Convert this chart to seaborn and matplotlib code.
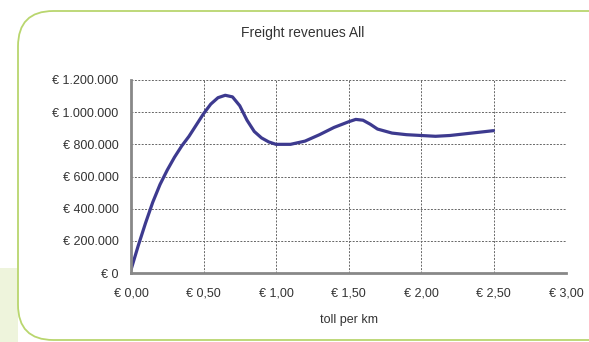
import numpy as np
import pandas as pd
import matplotlib.pyplot as plt
import seaborn as sns
from matplotlib.patches import FancyBboxPatch, Rectangle
from matplotlib.ticker import FuncFormatter

sns.set_style("white")
plt.rcParams['font.family'] = ['Liberation Sans', 'DejaVu Sans']

# values (toll in EUR per km, revenue in EUR)
toll = [0.00, 0.05, 0.10, 0.15, 0.20, 0.25, 0.30, 0.35, 0.40, 0.45,
        0.50, 0.55, 0.60, 0.65, 0.70, 0.75, 0.80, 0.85, 0.90, 0.95,
        1.00, 1.10, 1.20, 1.30, 1.40, 1.50, 1.55, 1.60, 1.65, 1.70,
        1.80, 1.90, 2.00, 2.10, 2.20, 2.30, 2.40, 2.50]
revenue_k = [20, 170, 310, 440, 550, 640, 720, 790, 850, 920,
             990, 1050, 1090, 1105, 1095, 1040, 950, 880, 840, 815,
             800, 800, 820, 860, 905, 940, 955, 950, 925, 895,
             870, 860, 855, 850, 855, 865, 875, 885]

df = pd.DataFrame({'toll': toll, 'revenue': np.array(revenue_k) * 1000})

fig = plt.figure(figsize=(5.89, 3.42), dpi=100)

# green frame decoration (behind the axes)
green = '#b9d66e'
fig.patches.append(Rectangle((0, 0), 18 / 589, 1 - 268 / 342, transform=fig.transFigure,
                             facecolor='#eef4dc', edgecolor='none', zorder=-3))
fig.patches.append(FancyBboxPatch((18 / 589, 2 / 342), 1.2, 1 - 13 / 342,
                                  boxstyle='round,pad=0,rounding_size=0.06',
                                  mutation_aspect=589 / 342,
                                  transform=fig.transFigure, facecolor='white',
                                  edgecolor=green, linewidth=1.3, zorder=-2))

ax = fig.add_axes([131 / 589, 1 - 273 / 342, 435 / 589, 193 / 342])
ax.set_facecolor('none')
sns.lineplot(data=df, x='toll', y='revenue', ax=ax, color='#3d3a8f', linewidth=2.3)

ax.set_xlim(0, 3)
ax.set_ylim(0, 1200000)
ax.set_xticks(np.arange(0, 3.01, 0.5))
ax.set_yticks(np.arange(0, 1200001, 200000))
ax.xaxis.set_major_formatter(FuncFormatter(lambda v, p: '€ ' + f'{v:.2f}'.replace('.', ',')))
ax.yaxis.set_major_formatter(FuncFormatter(lambda v, p: '€ ' + f'{v:,.0f}'.replace(',', '.')))
ax.tick_params(labelsize=9, length=4, width=0.8, color='#777777', direction='inout',
               labelcolor='#333333')
ax.tick_params(axis='y', pad=7)
ax.tick_params(axis='x', pad=8.5)

ax.grid(True, linestyle=(0, (2, 1.5)), color='#666666', linewidth=0.7)
ax.set_axisbelow(True)
for s in ['top', 'right']:
    ax.spines[s].set_visible(False)
for s in ['left', 'bottom']:
    ax.spines[s].set_color('#888888')
    ax.spines[s].set_linewidth(2)

ax.set_xlabel('toll per km', fontsize=9, labelpad=10.5, color='#333333')
ax.set_ylabel('')
fig.text(303 / 589, 1 - 33 / 342, 'Freight revenues All', ha='center', va='center',
         fontsize=10, color='#333333')

fig.savefig('out.png', dpi=100)
